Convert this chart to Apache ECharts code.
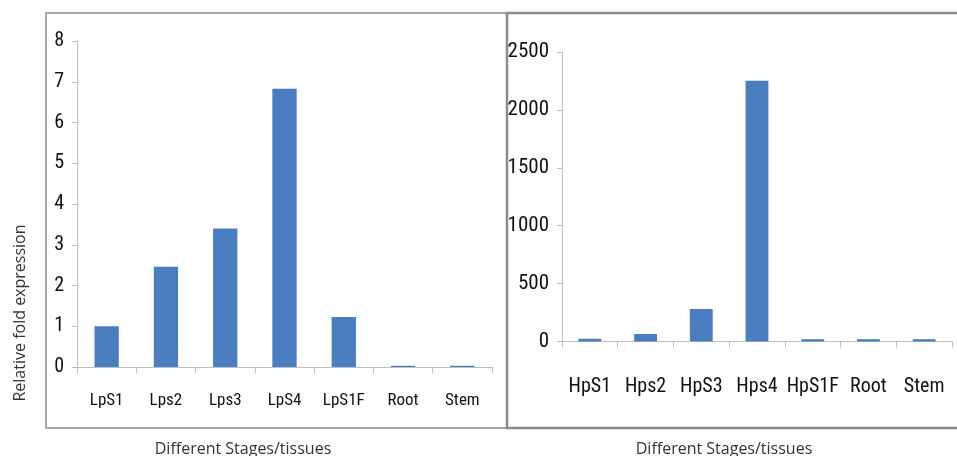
<!DOCTYPE html>
<html>
<head>
<meta charset="utf-8">
<script src="https://cdn.jsdelivr.net/npm/echarts@6/dist/echarts.min.js"></script>
<style>
html,body{margin:0;padding:0;background:#fff;}
#chart{width:957px;height:456px;}
</style>
</head>
<body>
<div id="chart"></div>
<script>
// ---- data ----
var leftCategories = ['LpS1', 'Lps2', 'Lps3', 'LpS4', 'LpS1F', 'Root', 'Stem'];
var leftValues = [1.0, 2.46, 3.40, 6.83, 1.23, 0.03, 0.03];
var rightCategories = ['HpS1', 'Hps2', 'HpS3', 'Hps4', 'HpS1F', 'Root', 'Stem'];
var rightValues = [24, 65, 281, 2251, 20, 20, 20];
var yAxisTitle = 'Relative fold expression';
var xAxisTitle = 'Different Stages/tissues';

var narrow = "'Roboto Condensed', 'Open Sans Condensed', 'DejaVu Sans Condensed', sans-serif";
var axisGray = '#bfbfbf';
var barColor = '#4a7ec0';
var textColor = '#111111';

var chart = echarts.init(document.getElementById('chart'), null, {renderer: 'canvas'});

function catAxis(idx, cats, fontSize, margin) {
  return {
    type: 'category', gridIndex: idx, data: cats,
    axisLine: {show: true, lineStyle: {color: axisGray, width: 1}},
    axisTick: {show: true, length: 6, lineStyle: {color: axisGray}},
    axisLabel: {fontFamily: narrow, fontSize: fontSize, color: textColor, margin: margin, interval: 0},
    splitLine: {show: false}
  };
}
function valAxis(idx, max, interval, fontSize) {
  return {
    type: 'value', gridIndex: idx, min: 0, max: max, interval: interval,
    axisLine: {show: true, lineStyle: {color: axisGray, width: 1}},
    axisTick: {show: true, length: 5, lineStyle: {color: axisGray}},
    axisLabel: {fontFamily: narrow, fontSize: fontSize, color: textColor, margin: 13,
      formatter: function (v) { return String(v); }},
    splitLine: {show: false}
  };
}

var option = {
  animation: false,
  backgroundColor: '#ffffff',
  grid: [
    {left: 77, top: 41, width: 415, height: 326},
    {left: 562, top: 52, width: 390, height: 289.5}
  ],
  xAxis: [
    catAxis(0, leftCategories, 17, 25),
    catAxis(1, rightCategories, 20, 35)
  ],
  yAxis: [
    valAxis(0, 8, 1, 20),
    valAxis(1, 2500, 500, 21)
  ],
  series: [
    {type: 'bar', xAxisIndex: 0, yAxisIndex: 0, data: leftValues, barWidth: '41%', itemStyle: {color: barColor}},
    {type: 'bar', xAxisIndex: 1, yAxisIndex: 1, data: rightValues, barWidth: '41%', itemStyle: {color: barColor}}
  ],
  graphic: [
    {type: 'rect', shape: {x: 46, y: 13, width: 461, height: 415}, style: {fill: 'none', stroke: '#a6a6a6', lineWidth: 2}, silent: true},
    {type: 'rect', shape: {x: 507, y: 13, width: 470, height: 415}, style: {fill: 'none', stroke: '#8c8c8c', lineWidth: 2.5}, silent: true},
    {type: 'text', x: 20, y: 313, rotation: Math.PI / 2, style: {text: yAxisTitle, fontFamily: "'Open Sans', sans-serif", fontSize: 16, fill: '#333', align: 'center', verticalAlign: 'middle'}},
    {type: 'text', x: 243, y: 449, style: {text: xAxisTitle, fontFamily: "'Open Sans', sans-serif", fontSize: 16, fill: '#333', align: 'center', verticalAlign: 'middle'}},
    {type: 'text', x: 724, y: 449, style: {text: xAxisTitle, fontFamily: "'Open Sans', sans-serif", fontSize: 16, fill: '#333', align: 'center', verticalAlign: 'middle'}}
  ]
};
chart.setOption(option);
</script>
</body>
</html>
